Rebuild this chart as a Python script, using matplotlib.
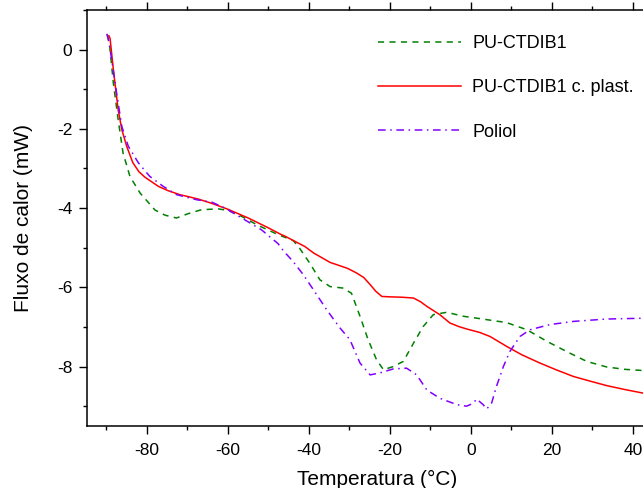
import matplotlib
matplotlib.use('Agg')
import matplotlib.pyplot as plt
from matplotlib.ticker import MultipleLocator

plt.rcParams['font.family'] = ['Liberation Sans', 'DejaVu Sans']
plt.rcParams['axes.unicode_minus'] = False

# PU-CTDIB1 (green dashed)
x_pu = [-89.8, -89.2, -88.3, -87.1, -85.9, -84.2, -81.7, -78.0, -75.5, -72.7, -69.8, -66.5,
        -62.4, -59.9, -56.6, -52.5, -47.6, -43.9, -42.6, -39.8, -37.3, -34.8, -31.5, -29.5,
        -27.4, -25.4, -23.3, -21.6, -19.2, -16.7, -14.2, -11.8, -9.3, -6.0, -1.9, 2.2,
        8.8, 13.8, 18.7, 23.6, 28.6, 33.5, 38.0, 42.5]
y_pu = [0.38, 0.1, -0.84, -1.77, -2.61, -3.2, -3.62, -4.05, -4.18, -4.25, -4.14, -4.04,
        -4.02, -4.06, -4.21, -4.44, -4.67, -4.82, -4.97, -5.39, -5.81, -5.98, -6.02, -6.15,
        -6.73, -7.32, -7.83, -8.08, -8.0, -7.87, -7.41, -6.99, -6.69, -6.63, -6.73, -6.79,
        -6.89, -7.07, -7.36, -7.62, -7.87, -8.01, -8.07, -8.1]

# PU-CTDIB1 c. plast. (red solid)
x_plast = [-89.4, -89.1, -88.3, -87.1, -86.2, -85.0, -83.5, -82.0, -80.5, -77.2, -74.8, -71.9,
           -67.4, -64.0, -60.0, -55.0, -50.0, -47.2, -45.9, -41.0, -38.9, -34.8, -30.5, -28.2,
           -26.5, -24.9, -23.5, -22.0, -20.0, -17.0, -14.2, -12.5, -10.9, -7.7, -5.2, -3.0,
           -1.1, 2.2, 4.7, 8.8, 12.5, 17.0, 21.0, 25.3, 29.5, 33.5, 38.0, 42.5]
y_plast = [0.35, 0.28, -0.5, -1.52, -2.02, -2.44, -2.85, -3.08, -3.22, -3.45, -3.56, -3.66,
           -3.77, -3.88, -4.03, -4.25, -4.5, -4.65, -4.71, -4.97, -5.13, -5.37, -5.52, -5.64,
           -5.75, -5.93, -6.1, -6.23, -6.24, -6.25, -6.27, -6.36, -6.48, -6.69, -6.9, -6.99,
           -7.05, -7.14, -7.24, -7.49, -7.7, -7.91, -8.08, -8.25, -8.37, -8.48, -8.58, -8.67]

# Poliol (violet dash-dot)
x_pol = [-89.9, -89.5, -88.7, -87.5, -86.2, -84.6, -82.1, -79.3, -76.0, -72.7, -67.7, -64.0,
         -60.7, -56.6, -51.7, -47.6, -46.3, -43.9, -41.4, -38.9, -35.6, -32.3, -29.9, -27.4,
         -24.9, -22.5, -19.2, -15.9, -13.4, -10.9, -7.7, -3.5, -1.1, 0.5, 1.4, 3.0,
         3.9, 5.1, 6.3, 8.0, 9.6, 12.1, 14.6, 19.5, 25.3, 33.5, 42.5]
y_pol = [0.4, 0.25, -0.25, -1.09, -1.94, -2.44, -2.86, -3.2, -3.45, -3.66, -3.79, -3.85,
         -4.0, -4.25, -4.55, -4.9, -5.08, -5.35, -5.68, -6.06, -6.57, -7.03, -7.32, -7.91,
         -8.21, -8.16, -8.06, -8.04, -8.21, -8.59, -8.8, -8.96, -9.0, -8.93, -8.82, -8.96,
         -9.07, -8.92, -8.5, -8.0, -7.62, -7.24, -7.07, -6.94, -6.86, -6.8, -6.78]

# the frame runs past the right edge of the picture
fig = plt.figure(figsize=(6.43, 4.88), dpi=100)
ax = fig.add_axes([87 / 643, 1 - 426 / 488, (667 - 87) / 643, (426 - 10) / 488])

ax.plot(x_pu, y_pu, color='#008000', lw=1.1, dashes=(4, 3.5), label='PU-CTDIB1')
ax.plot(x_plast, y_plast, color='#ff0000', lw=1.1, label='PU-CTDIB1 c. plast.')
ax.plot(x_pol, y_pol, color='#8000ff', lw=1.1, dashes=(5, 3, 1, 3), label='Poliol')

ax.set_xlim(-94.8, 48.4)
ax.set_ylim(-9.5, 1.0)
ax.xaxis.set_major_locator(MultipleLocator(20))
ax.xaxis.set_minor_locator(MultipleLocator(10))
ax.yaxis.set_major_locator(MultipleLocator(2))
ax.yaxis.set_minor_locator(MultipleLocator(1))
ax.spines['right'].set_visible(False)
for s in ['left', 'bottom', 'top']:
    ax.spines[s].set_linewidth(1.1)

ax.tick_params(axis='both', which='major', direction='out', length=5.5, width=1, labelsize=12.5)
ax.tick_params(axis='both', which='minor', direction='out', length=3, width=1)
ax.tick_params(axis='x', which='major', pad=7)
ax.tick_params(axis='y', which='major', pad=5)
ax.tick_params(axis='x', which='both', top=True)
ax.tick_params(axis='y', which='both', right=False)

ax.set_xlabel('Temperatura (°C)', fontsize=15, labelpad=8)
ax.set_ylabel('Fluxo de calor (mW)', fontsize=15, labelpad=17)

ax.legend(loc='upper left', bbox_to_anchor=(0.474, 0.978), frameon=False, fontsize=13,
          handlelength=4.6, handletextpad=0.6, labelspacing=1.5)

fig.savefig('out.png', dpi=100)
